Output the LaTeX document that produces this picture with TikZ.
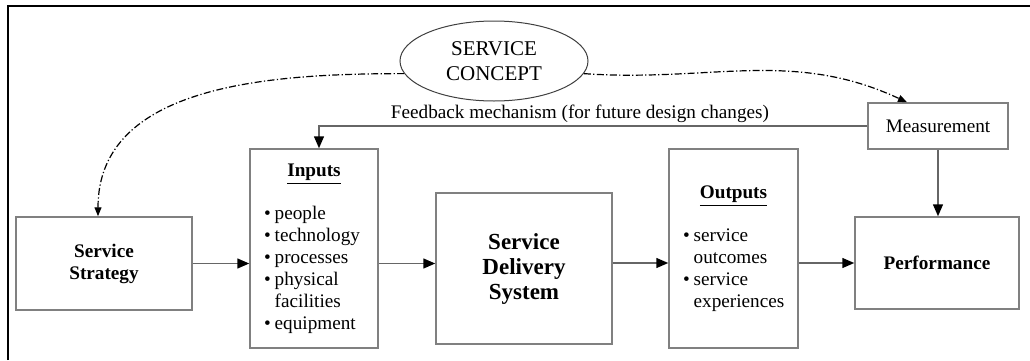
\documentclass[tikz,border=0pt]{standalone}
\usepackage{fontspec}
\setmainfont{Liberation Serif}
\usetikzlibrary{shapes,arrows.meta}

\newcommand{\itm}{\leavevmode\hspace*{5.5pt}\textbullet\hspace{2pt}}
\newcommand{\ind}{\leavevmode\hspace*{5.5pt}\phantom{\textbullet\hspace{2pt}}}
\newcommand{\boxtitle}[1]{\leavevmode\hspace*{\fill}\underline{\textbf{#1}}\hspace*{\fill}\null}

\begin{document}
\begin{tikzpicture}[x=0.5pt,y=-0.5pt,
   box/.style={rectangle,draw=black!50,line width=0.75pt,inner sep=1.5pt,font=\fontsize{9.6}{11}\selectfont},
   arr/.style={draw=black!60,line width=0.75pt,-{Triangle[length=6pt,width=5pt,color=black]}},
   dd/.style={line width=0.6pt,dash pattern=on 3.5pt off 1.2pt on 0.6pt off 1.2pt,-{Triangle[length=4.5pt,width=3.5pt]}}]

   \useasboundingbox (0,0) rectangle (1030,360);
   \draw[line width=1pt] (8,360) -- (8,6) -- (1030,6);

   \node[ellipse,draw=black!75,line width=0.5pt,minimum width=94pt,minimum height=40pt,inner sep=0pt,align=center,font=\fontsize{10.5}{12.5}\selectfont] (concept) at (494,61) {SERVICE\\CONCEPT};
   \node[box,minimum width=70pt,minimum height=23pt] (meas) at (938,126) {Measurement};
   \node[box,minimum width=88pt,minimum height=46.5pt,align=center,font=\fontsize{9.6}{11}\selectfont\bfseries] (strat) at (104,263.5) {Service\\Strategy};
   \node[box,text width=61pt,minimum height=99.5pt,align=left] (inp) at (314,248.5)
      {\boxtitle{Inputs}\\[10.5pt]
       \itm people\\ \itm technology\\ \itm processes\\
       \itm physical\\ \ind facilities\\ \itm equipment};
   \node[box,minimum width=88pt,minimum height=75.5pt,align=center,font=\fontsize{11.5}{12.5}\selectfont\bfseries] (sds) at (524,268.5) {Service\\Delivery\\System};
   \node[box,text width=61.5pt,minimum height=99.5pt,align=left] (outp) at (733.5,248.5)
      {\boxtitle{Outputs}\\[10.5pt]
       \itm service\\ \ind outcomes\\
       \itm service\\ \ind experiences};
   \node[box,minimum width=82pt,minimum height=46pt,font=\fontsize{9.6}{11}\selectfont\bfseries] (perf) at (937,263) {Performance};

   % service concept links
   \draw[dd] (concept.188) to[out=180,in=90] ([xshift=-3pt]strat.north);
   \draw[dd] (concept.-8) to[out=-4,in=155] ([xshift=-15.5pt]meas.north);

   % feedback
   \draw[arr] (meas.west) -| node[pos=0.262,above,inner sep=1.5pt,font=\fontsize{9.6}{11}\selectfont] {Feedback mechanism (for future design changes)} ([xshift=2.5pt]inp.north);
   \draw[arr] (meas.south) -- (meas.south |- perf.north);

   % main flow
   \draw[arr] (strat.east) -- (strat.east -| inp.west);
   \draw[arr] (inp.east |- strat.east) -- (sds.west |- strat.east);
   \draw[arr] (sds.east |- perf.west) -- (outp.west |- perf.west);
   \draw[arr] (outp.east |- perf.west) -- (perf.west);
\end{tikzpicture}
\end{document}
